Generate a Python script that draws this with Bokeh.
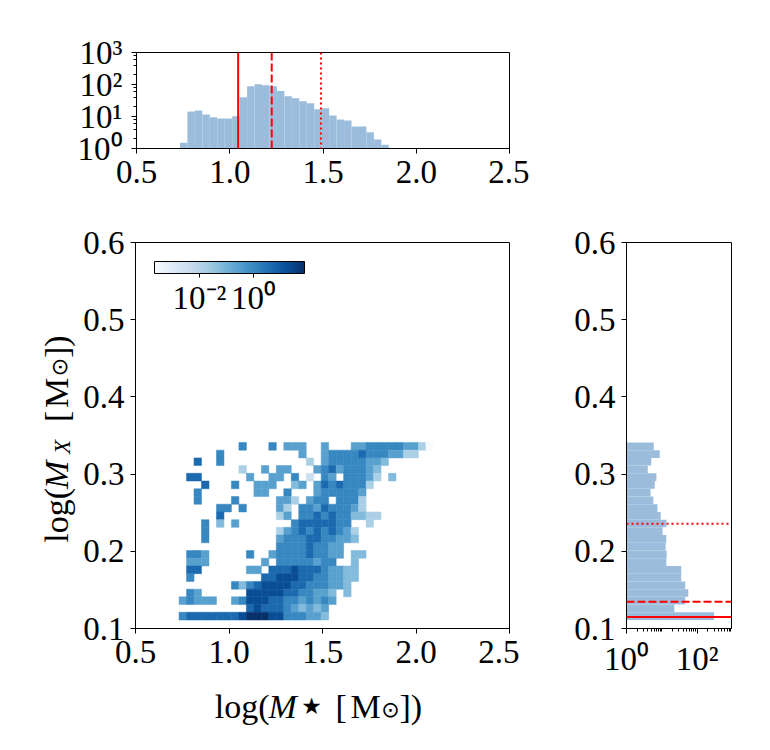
import math
from bokeh.plotting import figure
from bokeh.models import (ColumnDataSource, FixedTicker, PrintfTickFormatter, Span,
                          LogColorMapper, ColorBar, LogTicker, AllLabels)
from bokeh.core.properties import value
from bokeh.layouts import column, row
from bokeh.embed import file_html
from bokeh.resources import INLINE
from bokeh.palettes import Blues256

# ---------------- data ----------------
top_edges = [0.733, 0.773, 0.813, 0.853, 0.893, 0.933, 0.973, 1.013, 1.053, 1.093,
             1.133, 1.173, 1.213, 1.253, 1.293, 1.333, 1.373, 1.413, 1.453, 1.493,
             1.533, 1.573, 1.613, 1.653, 1.693, 1.733, 1.773, 1.813, 1.853]
top_counts = [1.5, 14.4, 15.5, 11.6, 9.4, 8.7, 8.7, 10.1, 39.8, 88, 101, 94, 88, 63,
              42.7, 37, 29.7, 25.8, 16.7, 18, 10.8, 8.1, 7.5, 4.9, 4.9, 3.2, 1.9, 1.3]

y_edges = [0.111, 0.121, 0.131, 0.141, 0.151, 0.161, 0.171, 0.181, 0.191, 0.201, 0.211,
           0.221, 0.231, 0.241, 0.251, 0.261, 0.271, 0.281, 0.291, 0.301, 0.311, 0.321,
           0.331, 0.341]
right_counts = [301, 22.5, 45.8, 55.8, 45.8, 35.3, 35.3, 13.4, 13.7, 12.8, 13.4, 10.5,
                13.4, 9.3, 7.5, 5.75, 4.8, 6.3, 7.0, 4.0, 5.0, 8.7, 5.9]

heat_x_edges = top_edges + [1.893, 1.933, 1.973, 2.013, 2.053, 2.093]
# colour level read per cell (0 = lightest .. 9 = darkest, '.' = empty); first row = top bin
heat_levels = [
    "........6...6.555..5...55666665530",
    ".....6..........5..5666676665533..",
    "..7..6...........3.566666554......",
    "........3..5.55...567566654.......",
    ".77......5..55.6.2.65.66653.4.....",
    "...7...6..555..45.57676663........",
    "..6.......55..6...5666665.........",
    "..6....6.....553.566.6663.........",
    ".....66.6....53.665766653.........",
    ".....7.......35.66767664433.......",
    "...6.4.5.......67777766..3........",
    "...6.........35676767653..........",
    "...6.........56667766554..........",
    ".............666676655............",
    ".665.....6..5666676655.44.........",
    ".555.......5.66666566..4..........",
    ".77......55.777877765544..........",
    ".6.........7788877665544..........",
    ".......6467888877666554...........",
    ".65......888887766554.4...........",
    "56555..56888776656565.............",
    ".........78777654545..............",
    "67777777899988666554..............",
]
color_log_min, color_log_max = -3.67, 1.89
colorbar_exps = [-2, 0]

top_lines = [1.045, 1.225, 1.489]
right_lines = [0.115, 0.1346, 0.2356]
line_styles = ["solid", "8 3", "2 3"]

x_ticks = [0.5, 1.0, 1.5, 2.0, 2.5]
y_ticks = [0.1, 0.2, 0.3, 0.4, 0.5, 0.6]
top_y_exps = [0, 1, 2, 3]
right_x_exps = [0, 2]

# ---------------- styling helpers ----------------
SERIF = "Liberation Serif"
SYM = "DejaVu Sans"
HIST = "#9bbddb"
TICK = "33px"
SUP = {"-": "\u207b", "0": "\u2070", "1": "\u00b9", "2": "\u00b2", "3": "\u00b3"}


def pow_label(k):
    return "10" + "".join(SUP[ch] for ch in str(k))


def style(fig):
    fig.outline_line_color = "black"
    fig.outline_line_width = 1
    fig.grid.visible = False
    fig.background_fill_color = "white"
    fig.border_fill_color = "white"
    for ax in fig.axis:
        ax.axis_line_color = "black"
        ax.major_tick_in = 0
        ax.major_tick_out = 5
        ax.minor_tick_in = 0
        ax.minor_tick_out = 3
        ax.major_tick_line_color = "black"
        ax.minor_tick_line_color = "black"
        ax.major_label_text_font = SERIF
        ax.major_label_text_font_size = TICK
        ax.major_label_text_color = "black"
    for ax in fig.xaxis:
        ax.major_label_standoff = 7
    for ax in fig.yaxis:
        ax.major_label_standoff = 6


def canvas(fw, fh, bl, br, bt, bb):
    # bare drawing area; its frame uses its own pixels as data units
    p = figure(frame_width=fw, frame_height=fh, x_range=(0, fw), y_range=(0, fh),
               toolbar_location=None, output_backend="svg", title=None,
               min_border_left=bl, min_border_right=br, min_border_top=bt,
               min_border_bottom=bb, x_axis_location=None, y_axis_location=None,
               outline_line_color=None)
    p.grid.visible = False
    p.background_fill_color = "white"
    p.border_fill_color = "white"
    return p


def put(p, text, x, y_from_top, size, style_="normal", align="left", baseline="alphabetic",
        angle=0.0, font=SERIF):
    p.text(x=[x], y=[p.frame_height - y_from_top], text=[text], text_font=value(font),
           text_font_size=value(f"{size}px"), text_font_style=value(style_),
           text_align=value(align), text_baseline=value(baseline), angle=angle,
           text_color="black")


# ---------------- top histogram ----------------
top = figure(width=529, height=198, x_range=(0.5, 2.5), y_range=(1, 1000), y_axis_type="log",
             toolbar_location=None, output_backend="svg", title=None,
             min_border_left=136, min_border_right=20, min_border_top=52, min_border_bottom=50)
top_src = ColumnDataSource(dict(left=top_edges[:-1], right=top_edges[1:], top=top_counts,
                                bottom=[1] * len(top_counts)))
top.quad(left="left", right="right", top="top", bottom="bottom", source=top_src,
         fill_color=HIST, line_color=None)
for loc, dash in zip(top_lines, line_styles):
    top.add_layout(Span(location=loc, dimension="height", line_color="red", line_width=2,
                        line_dash=dash))
style(top)
top.xaxis.ticker = FixedTicker(ticks=x_ticks)
top.xaxis.formatter = PrintfTickFormatter(format="%.1f")
top.yaxis.ticker = LogTicker()
top.yaxis.major_label_overrides = {10 ** k: pow_label(k) for k in top_y_exps}
top.yaxis.major_label_standoff = 9

# ---------------- main 2D histogram ----------------
mapper = LogColorMapper(palette=list(reversed(Blues256)), low=10 ** color_log_min,
                        high=10 ** color_log_max)
cells = dict(left=[], right=[], bottom=[], top=[], w=[])
nrows = len(heat_levels)
for r, line in enumerate(heat_levels):
    j = nrows - 1 - r
    for c, ch in enumerate(line):
        if ch == ".":
            continue
        cells["left"].append(heat_x_edges[c])
        cells["right"].append(heat_x_edges[c + 1])
        cells["bottom"].append(y_edges[j])
        cells["top"].append(y_edges[j + 1])
        cells["w"].append(10 ** (color_log_min + int(ch) / 9 * (color_log_max - color_log_min)))

YLAB_W = 80
MB_L, MB_R, MB_T, MB_B = 135 - YLAB_W, 10, 44, 50
FW, FH = 374, 386
main = figure(frame_width=FW, frame_height=FH, x_range=(0.5, 2.5), y_range=(0.1, 0.6),
              toolbar_location=None, output_backend="svg", title=None,
              min_border_left=MB_L, min_border_right=MB_R, min_border_top=MB_T,
              min_border_bottom=MB_B)
main.quad(left="left", right="right", bottom="bottom", top="top", source=ColumnDataSource(cells),
          fill_color={"field": "w", "transform": mapper},
          line_color={"field": "w", "transform": mapper}, line_width=0.5)
style(main)
main.xaxis.ticker = FixedTicker(ticks=x_ticks)
main.xaxis.formatter = PrintfTickFormatter(format="%.1f")
main.yaxis.ticker = FixedTicker(ticks=y_ticks)
main.yaxis.formatter = PrintfTickFormatter(format="%.1f")

cb = ColorBar(color_mapper=mapper, orientation="horizontal", location="top_left",
              width=150, height=12, padding=0, margin=19,
              ticker=FixedTicker(ticks=[10 ** k for k in colorbar_exps]),
              major_label_overrides={10 ** k: pow_label(k) for k in colorbar_exps},
              major_label_policy=AllLabels(),
              major_label_text_font=SERIF, major_label_text_font_size=TICK,
              major_label_text_color="black",
              major_tick_in=0, major_tick_out=4, major_tick_line_color="black",
              minor_tick_out=0, minor_tick_in=0, label_standoff=2,
              bar_line_color="black", bar_line_width=1,
              background_fill_alpha=0, border_line_color=None)
main.add_layout(cb)

# x axis label: canvas under the main panel, frame aligned with the main frame
# (frame left = page x 135, frame top = page y 678)
xlab = canvas(FW, 60, MB_L, MB_R, 0, 0)
FX, FY = 135, 678
put(xlab, "log(", 269 - FX, 706 - FY, 34, align="right")
put(xlab, "M", 268 - FX, 706 - FY, 34, style_="italic")
put(xlab, "\u2605", 311 - FX, 705 - FY, 23, align="center", font=SYM)
put(xlab, "[", 335 - FX, 706 - FY, 34)
put(xlab, "M", 350 - FX, 706 - FY, 34)
put(xlab, "\u2299", 390 - FX, 709 - FY, 22, align="center", font=SYM)
put(xlab, "])", 399 - FX, 706 - FY, 34)

# y axis label: canvas left of the main panel, frame aligned with the main frame
# (frame left = page x 0, frame top = page y 242); rotated, reads bottom to top
ylab = canvas(YLAB_W, FH, 0, 0, MB_T, MB_B)
GX, GY = 0, 242
A = math.pi / 2
BX = 56
put(ylab, "log(", BX - GX, 487.5 - GY, 34, align="right", angle=A)
put(ylab, "M", BX - GX, 488.5 - GY, 34, style_="italic", angle=A)
put(ylab, "X", BX + 6 - GX, 453.5 - GY, 23, style_="italic", angle=A)
put(ylab, "[", BX - GX, 421.5 - GY, 34, angle=A)
put(ylab, "M", BX - GX, 407.5 - GY, 34, angle=A)
put(ylab, "\u2299", BX + 3 - GX, 366.5 - GY, 22, align="center", angle=A, font=SYM)
put(ylab, "])", BX - GX, 357.5 - GY, 34, angle=A)

# ---------------- right histogram ----------------
right = figure(frame_width=105, frame_height=FH, x_range=(1, 10 ** 2.97), y_range=(0.1, 0.6),
               x_axis_type="log", toolbar_location=None, output_backend="svg", title=None,
               min_border_left=107, min_border_right=20, min_border_top=MB_T,
               min_border_bottom=MB_B)
right_src = ColumnDataSource(dict(left=[1] * len(right_counts), right=right_counts,
                                  bottom=y_edges[:-1], top=y_edges[1:]))
right.quad(left="left", right="right", bottom="bottom", top="top", source=right_src,
           fill_color=HIST, line_color=None)
for loc, dash in zip(right_lines, line_styles):
    right.add_layout(Span(location=loc, dimension="width", line_color="red", line_width=2,
                          line_dash=dash))
style(right)
right.yaxis.ticker = FixedTicker(ticks=y_ticks)
right.yaxis.formatter = PrintfTickFormatter(format="%.1f")
minor = [m * 10 ** d for d in range(3) for m in range(1, 10) if not (m == 1 and d in (0, 2))]
right.xaxis.ticker = FixedTicker(ticks=[10 ** k for k in right_x_exps], minor_ticks=minor)
right.xaxis.major_label_overrides = {10 ** k: pow_label(k) for k in right_x_exps}

layout = column(top, row(ylab, column(main, xlab), right))
open("out.html", "w").write(file_html(layout, INLINE))
